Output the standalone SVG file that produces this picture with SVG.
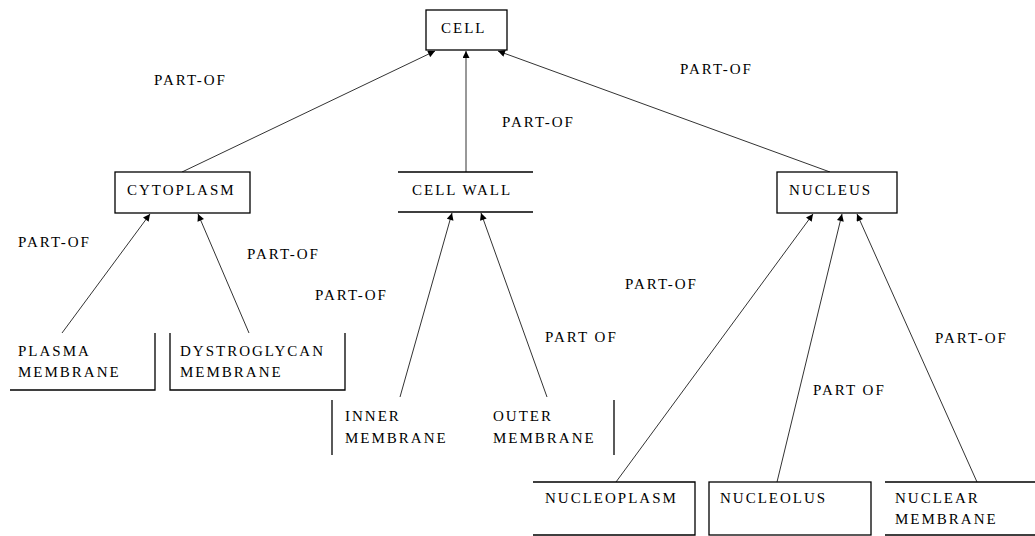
<svg xmlns="http://www.w3.org/2000/svg" width="1035" height="536" viewBox="0 0 1035 536">
  <style>
    .box { fill: #ffffff; stroke: #000000; stroke-width: 1.3; }
    .edge { fill: none; stroke: #000000; stroke-width: 1.3; }
    .link { fill: none; stroke: #333333; stroke-width: 1; marker-end: url(#head); }
    text { font-family: "Liberation Serif", "Times New Roman", serif; font-size: 15px; letter-spacing: 2px; fill: #000000; }
  </style>
  <defs>
    <marker id="head" viewBox="0 0 10 10" refX="10" refY="5" markerWidth="8" markerHeight="7" markerUnits="userSpaceOnUse" orient="auto">
      <path d="M0,0 L10,5 L0,10 Z" fill="#000000"/>
    </marker>
  </defs>
  <rect width="1035" height="536" fill="#ffffff"/>

  <!-- part-of connectors, child to parent -->
  <g id="connectors">
    <line class="link" x1="182" y1="172" x2="435" y2="51"/>
    <line class="link" x1="466" y1="172" x2="466" y2="51"/>
    <line class="link" x1="830" y1="172" x2="498" y2="51"/>
    <line class="link" x1="62" y1="333" x2="150" y2="214"/>
    <line class="link" x1="249" y1="333" x2="198" y2="214"/>
    <line class="link" x1="400" y1="397" x2="452" y2="213"/>
    <line class="link" x1="547" y1="397" x2="481" y2="213"/>
    <line class="link" x1="616" y1="482" x2="813" y2="214"/>
    <line class="link" x1="777" y1="482" x2="842" y2="214"/>
    <line class="link" x1="977" y1="482" x2="857" y2="214"/>
  </g>

  <g id="labels">
    <text x="154" y="85">PART-OF</text>
    <text x="502" y="127">PART-OF</text>
    <text x="680" y="74">PART-OF</text>
    <text x="18" y="247">PART-OF</text>
    <text x="247" y="259">PART-OF</text>
    <text x="315" y="300">PART-OF</text>
    <text x="625" y="289">PART-OF</text>
    <text x="545" y="342">PART OF</text>
    <text x="935" y="343">PART-OF</text>
    <text x="813" y="395">PART OF</text>
  </g>

  <g id="cell">
    <rect class="box" x="426" y="10" width="81" height="40"/>
    <text x="441" y="33">CELL</text>
  </g>
  <g id="cytoplasm">
    <rect class="box" x="115" y="172" width="135" height="41"/>
    <text x="127" y="195">CYTOPLASM</text>
  </g>
  <g id="cell-wall">
    <path class="edge" d="M398,172 H533 M398,212 H533"/>
    <text x="412" y="195">CELL WALL</text>
  </g>
  <g id="nucleus">
    <rect class="box" x="777" y="172" width="120" height="41"/>
    <text x="789" y="195">NUCLEUS</text>
  </g>
  <g id="plasma-membrane">
    <path class="edge" d="M155,333 V390 H10"/>
    <text x="18" y="356">PLASMA</text>
    <text x="18" y="377">MEMBRANE</text>
  </g>
  <g id="dystroglycan-membrane">
    <path class="edge" d="M170,333 V390 H345 V333"/>
    <text x="180" y="356">DYSTROGLYCAN</text>
    <text x="180" y="377">MEMBRANE</text>
  </g>
  <g id="inner-membrane">
    <path class="edge" d="M332,400 V455"/>
    <text x="345" y="421">INNER</text>
    <text x="345" y="443">MEMBRANE</text>
  </g>
  <g id="outer-membrane">
    <path class="edge" d="M614,400 V455"/>
    <text x="493" y="421">OUTER</text>
    <text x="493" y="443">MEMBRANE</text>
  </g>
  <g id="nucleoplasm">
    <path class="edge" d="M533,482 H695 V535 H533"/>
    <text x="545" y="503">NUCLEOPLASM</text>
  </g>
  <g id="nucleolus">
    <rect class="box" x="709" y="482" width="162" height="53"/>
    <text x="720" y="503">NUCLEOLUS</text>
  </g>
  <g id="nuclear-membrane">
    <path class="edge" d="M885,482 H1035 M885,535 H1035"/>
    <text x="895" y="503">NUCLEAR</text>
    <text x="895" y="524">MEMBRANE</text>
  </g>
</svg>
